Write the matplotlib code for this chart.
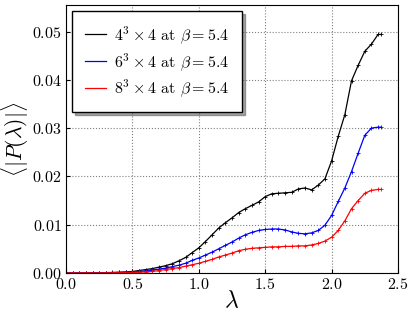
import numpy as np
import matplotlib
matplotlib.use("Agg")
import matplotlib.pyplot as plt
from matplotlib.lines import Line2D

plt.rcParams['font.family'] = 'serif'
plt.rcParams['font.serif'] = ['cmr10']
plt.rcParams['mathtext.fontset'] = 'cm'
plt.rcParams['axes.formatter.use_mathtext'] = True

# lambda values
lam = [0.0, 0.05, 0.1, 0.15, 0.2, 0.25, 0.3, 0.35, 0.4, 0.45,
       0.5, 0.55, 0.6, 0.65, 0.7, 0.75, 0.8, 0.85, 0.9, 0.95,
       1.0, 1.05, 1.1, 1.15, 1.2, 1.25, 1.3, 1.35, 1.4, 1.45,
       1.5, 1.55, 1.6, 1.65, 1.7, 1.75, 1.8, 1.85, 1.9, 1.95,
       2.0, 2.05, 2.1, 2.15, 2.2, 2.25, 2.3, 2.35, 2.375]

p4 = [0, 0, 0, 0, 0.00002, 0.00004, 0.00007, 0.0001, 0.00015, 0.0002,
      0.0003, 0.0005, 0.0007, 0.0009, 0.0012, 0.0015, 0.0019, 0.0025, 0.0032, 0.0042,
      0.0052, 0.0065, 0.0079, 0.0093, 0.0104, 0.0114, 0.0125, 0.0133, 0.0140, 0.0147,
      0.0158, 0.0164, 0.0165, 0.0166, 0.0167, 0.0174, 0.0176, 0.0172, 0.0182, 0.0195,
      0.0232, 0.0283, 0.0328, 0.0398, 0.0430, 0.0459, 0.0474, 0.0494, 0.0494]

p6 = [0, 0, 0, 0, 0.00001, 0.00002, 0.00004, 0.00006, 0.0001, 0.00015,
      0.0002, 0.0003, 0.0004, 0.0006, 0.0008, 0.0010, 0.0013, 0.0016, 0.0020, 0.0026,
      0.0031, 0.0037, 0.0043, 0.0050, 0.0057, 0.0064, 0.0072, 0.0079, 0.0084, 0.0088,
      0.0090, 0.0091, 0.0091, 0.0089, 0.0085, 0.0082, 0.0081, 0.0083, 0.0088, 0.0099,
      0.0119, 0.0148, 0.0176, 0.0210, 0.0248, 0.0285, 0.0300, 0.0302, 0.0302]

p8 = [0, 0, 0, 0, 0.00001, 0.00001, 0.00002, 0.00003, 0.00005, 0.00008,
      0.0001, 0.00015, 0.0002, 0.0003, 0.0005, 0.0007, 0.0009, 0.0011, 0.0014, 0.0017,
      0.0020, 0.0024, 0.0028, 0.0033, 0.0037, 0.0041, 0.0046, 0.0049, 0.0051, 0.0052,
      0.0053, 0.0054, 0.0054, 0.0055, 0.0055, 0.0056, 0.0056, 0.0058, 0.0061, 0.0066,
      0.0074, 0.0088, 0.0108, 0.0133, 0.0150, 0.0165, 0.0171, 0.0173, 0.0173]

labels = [r'$4^3\times4$ at $\beta=5.4$',
          r'$6^3\times4$ at $\beta=5.4$',
          r'$8^3\times4$ at $\beta=5.4$']
colors = ['black', 'blue', 'red']

fig = plt.figure(figsize=(4.15, 3.13), dpi=100)
ax = fig.add_axes([0.159, 0.128, 0.8, 0.856])

for ys, lab, c in zip([p4, p6, p8], labels, colors):
    ax.plot(lam, ys, color=c, lw=0.9, marker='+', ms=2.5, mew=0.6)

ax.set_xlim(0, 2.5)
ax.set_ylim(0, 0.0555)
ax.set_xticks([0.0, 0.5, 1.0, 1.5, 2.0, 2.5])
ax.set_yticks([0.0, 0.01, 0.02, 0.03, 0.04, 0.05])
ax.xaxis.set_major_formatter(matplotlib.ticker.FormatStrFormatter(r'$%.1f$'))
ax.yaxis.set_major_formatter(matplotlib.ticker.FormatStrFormatter(r'$%.2f$'))
ax.tick_params(direction='in', labelsize=11.5, length=3, pad=3)
ax.grid(True, color='gray', linestyle=':', linewidth=0.8)
ax.set_xlabel(r'$\lambda$', fontsize=17)
ax.xaxis.set_label_coords(0.5, -0.065)
ax.xaxis.label.set_va('top')
ax.set_ylabel(r'$\langle|P(\lambda)|\rangle$', fontsize=15.5)
ax.yaxis.set_label_coords(-0.106, 0.5)

handles = [Line2D([], [], color=c, lw=0.9) for c in colors]
ax.legend(handles, labels, loc='upper left', fontsize=11.5, shadow=True,
          fancybox=False, edgecolor='black', framealpha=1, handlelength=1.3,
          handletextpad=0.5, labelspacing=0.3, borderpad=0.8,
          borderaxespad=0.4)

fig.savefig('out.png', dpi=100)
